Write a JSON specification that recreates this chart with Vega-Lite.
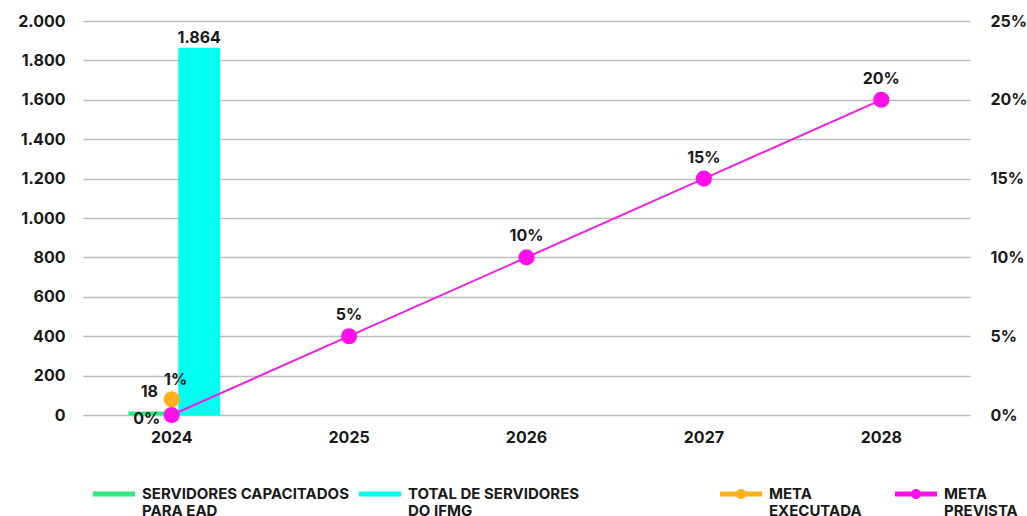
{
  "$schema": "https://vega.github.io/schema/vega-lite/v6.json",
  "width": 887,
  "height": 394,
  "autosize": {"type": "none"},
  "padding": {"left": 83, "top": 21, "right": 57, "bottom": 101},
  "background": "white",
  "config": {
    "locale": {"number": {"decimal": ",", "thousands": ".", "grouping": [3], "currency": ["R$", ""]}},
    "font": "Inter",
    "view": {"stroke": null},
    "axis": {"labelFont": "Inter", "labelFontSize": 16, "labelFontWeight": "bold", "labelColor": "#1a1a1a", "domain": false, "ticks": false, "title": null},
    "text": {"font": "Inter", "fontSize": 16, "fontWeight": "bold", "color": "#1a1a1a"},
    "legend": {"labelFont": "Inter", "labelFontSize": 15, "labelFontWeight": "bold", "labelColor": "#1a1a1a", "title": null}
  },
  "datasets": {
    "bars": [
      {"ano": "2024", "serie": "SERVIDORES CAPACITADOS PARA EAD", "valor": 18},
      {"ano": "2024", "serie": "TOTAL DE SERVIDORES DO IFMG", "valor": 1864}
    ],
    "metas": [
      {"ano": "2024", "meta": "META EXECUTADA", "pct": 0.01},
      {"ano": "2024", "meta": "META PREVISTA", "pct": 0},
      {"ano": "2025", "meta": "META PREVISTA", "pct": 0.05},
      {"ano": "2026", "meta": "META PREVISTA", "pct": 0.10},
      {"ano": "2027", "meta": "META PREVISTA", "pct": 0.15},
      {"ano": "2028", "meta": "META PREVISTA", "pct": 0.20}
    ]
  },
  "encoding": {
    "x": {
      "field": "ano",
      "type": "ordinal",
      "scale": {"domain": ["2024", "2025", "2026", "2027", "2028"], "paddingInner": 0, "paddingOuter": 0},
      "axis": {"labelAngle": 0, "labelPadding": 14, "grid": false}
    }
  },
  "layer": [
    {
      "data": {"name": "bars"},
      "encoding": {
        "xOffset": {
          "field": "serie",
          "type": "nominal",
          "scale": {"domain": ["SERVIDORES CAPACITADOS PARA EAD", "TOTAL DE SERVIDORES DO IFMG"], "paddingInner": 0.16, "paddingOuter": 0.86, "align": 0.53}
        },
        "y": {
          "field": "valor",
          "type": "quantitative",
          "scale": {"domain": [0, 2000], "nice": false},
          "axis": {
            "orient": "left",
            "values": [0, 200, 400, 600, 800, 1000, 1200, 1400, 1600, 1800, 2000],
            "format": ",d",
            "grid": true,
            "gridColor": "#bdbdbd",
            "gridWidth": 1.5,
            "labelPadding": 18
          }
        }
      },
      "layer": [
        {
          "mark": {"type": "bar"},
          "encoding": {
            "color": {
              "field": "serie",
              "type": "nominal",
              "scale": {"domain": ["SERVIDORES CAPACITADOS PARA EAD", "TOTAL DE SERVIDORES DO IFMG"], "range": ["#2EEA82", "#00FFF0"]},
              "legend": {
                "orient": "none",
                "legendX": 10,
                "legendY": 452,
                "direction": "horizontal",
                "columns": 2,
                "columnPadding": 10,
                "symbolType": "M-1,-0.12H1V0.12H-1Z",
                "symbolSize": 1764,
                "symbolStrokeWidth": 0,
                "symbolOpacity": 1,
                "labelOffset": 7,
                "labelLimit": 400,
                "labelBaseline": "middle",
                "labelExpr": "datum.label == 'SERVIDORES CAPACITADOS PARA EAD' ? ['SERVIDORES CAPACITADOS', 'PARA EAD'] : ['TOTAL DE SERVIDORES', 'DO IFMG']"
              }
            }
          }
        },
        {
          "transform": [{"filter": "datum.serie == 'TOTAL DE SERVIDORES DO IFMG'"}],
          "mark": {"type": "text", "baseline": "middle", "dy": -10},
          "encoding": {"text": {"field": "valor", "type": "quantitative", "format": ",d"}}
        },
        {
          "transform": [{"filter": "datum.serie == 'SERVIDORES CAPACITADOS PARA EAD'"}],
          "mark": {"type": "text", "baseline": "middle", "dy": -19},
          "encoding": {"text": {"field": "valor", "type": "quantitative", "format": ",d"}}
        }
      ]
    },
    {
      "data": {"name": "metas"},
      "encoding": {
        "y": {
          "field": "pct",
          "type": "quantitative",
          "scale": {"domain": [0, 0.25], "nice": false},
          "axis": {"orient": "right", "values": [0, 0.05, 0.1, 0.15, 0.2, 0.25], "format": ".0%", "grid": false, "labelPadding": 20}
        }
      },
      "layer": [
        {
          "transform": [{"filter": "datum.meta == 'META PREVISTA'"}],
          "mark": {"type": "line", "strokeWidth": 2, "color": "#F020E0"},
          "encoding": {}
        },
        {
          "mark": {"type": "point", "filled": true, "size": 260, "opacity": 1},
          "encoding": {
            "fill": {
              "field": "meta",
              "type": "nominal",
              "scale": {"domain": ["META EXECUTADA", "META PREVISTA"], "range": ["#FFB01A", "#FF10E8"]},
              "legend": {
                "orient": "none",
                "legendX": 637,
                "legendY": 452,
                "direction": "horizontal",
                "columns": 2,
                "columnPadding": 33,
                "symbolType": "M-1,-0.12H1V0.12H-1Z M0.24,0A0.24,0.24 0 1 1 -0.24,0A0.24,0.24 0 1 1 0.24,0Z",
                "symbolSize": 1764,
                "symbolStrokeWidth": 0,
                "symbolOpacity": 1,
                "labelOffset": 7,
                "labelLimit": 400,
                "labelBaseline": "middle",
                "labelExpr": "split(datum.label, ' ')"
              }
            }
          }
        },
        {
          "transform": [{"filter": "datum.meta == 'META PREVISTA' && datum.pct > 0"}],
          "mark": {"type": "text", "baseline": "middle", "dy": -21},
          "encoding": {"text": {"field": "pct", "type": "quantitative", "format": ".0%"}}
        },
        {
          "transform": [{"filter": "datum.meta == 'META PREVISTA' && datum.pct == 0"}],
          "mark": {"type": "text", "baseline": "middle", "dx": -25, "dy": 4},
          "encoding": {"text": {"field": "pct", "type": "quantitative", "format": ".0%"}}
        },
        {
          "transform": [{"filter": "datum.meta == 'META EXECUTADA'"}],
          "mark": {"type": "text", "baseline": "middle", "dx": 4, "dy": -19},
          "encoding": {"text": {"field": "pct", "type": "quantitative", "format": ".0%"}}
        }
      ]
    }
  ],
  "resolve": {"scale": {"y": "independent"}}
}
